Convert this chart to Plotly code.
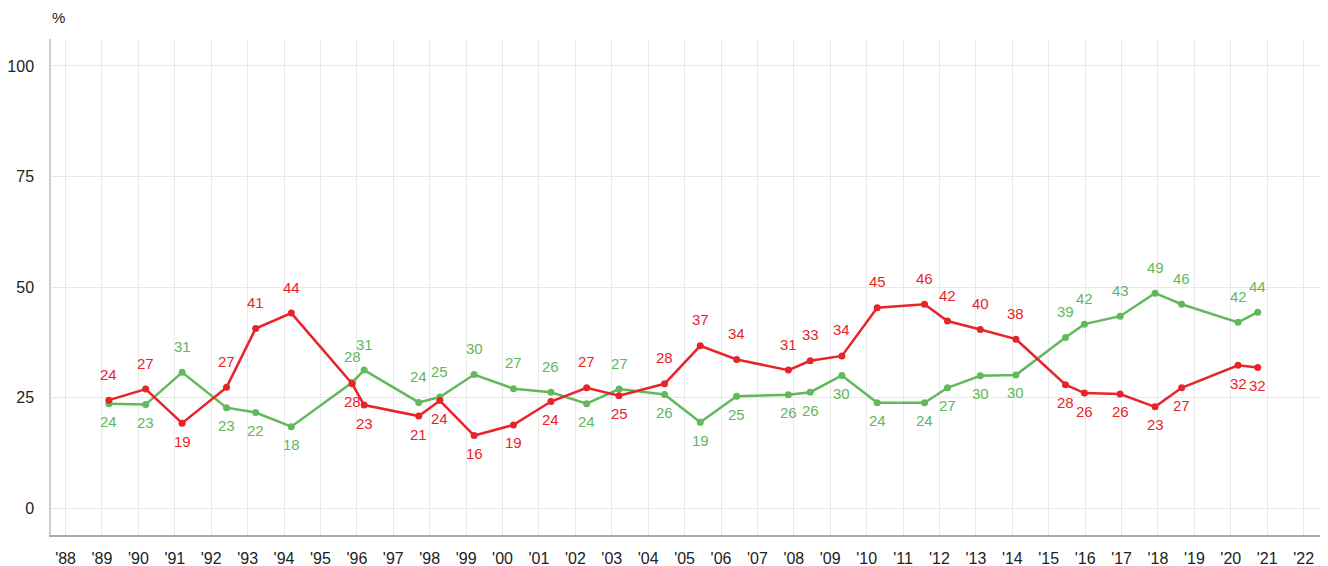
import plotly.graph_objects as go

x_dates = [1989.19, 1990.2, 1991.2, 1992.42, 1993.22, 1994.2, 1995.87, 1996.2, 1997.7, 1998.28,
           1999.22, 2000.3, 2001.33, 2002.31, 2003.2, 2004.45, 2005.43, 2006.43, 2007.85, 2008.45,
           2009.32, 2010.29, 2011.59, 2012.22, 2013.12, 2014.1, 2015.46, 2015.98, 2016.96, 2017.92,
           2018.65, 2020.2, 2020.74]

red_values = [24.4, 26.9, 19.2, 27.3, 40.6, 44.1, 28.1, 23.3, 20.8, 24.3,
              16.4, 18.8, 24.1, 27.2, 25.4, 28.1, 36.7, 33.6, 31.2, 33.3,
              34.4, 45.3, 46.1, 42.3, 40.4, 38.2, 27.9, 26.0, 25.8, 22.9,
              27.2, 32.3, 31.8]

green_values = [23.6, 23.4, 30.7, 22.7, 21.6, 18.4, 28.4, 31.2, 23.9, 25.1,
                30.2, 27.0, 26.2, 23.6, 26.9, 25.7, 19.4, 25.3, 25.6, 26.2,
                30.0, 23.8, 23.8, 27.2, 29.9, 30.1, 38.6, 41.6, 43.4, 48.6,
                46.1, 42.0, 44.3]

tick_years = list(range(1988, 2023))
tick_labels = ["'" + str(y)[2:] for y in tick_years]
y_ticks = [0, 25, 50, 75, 100]

RED = "#e8242b"
GREEN = "#62b85c"
FONT = "Liberation Sans, Arial, sans-serif"

fig = go.Figure()
fig.add_trace(go.Scatter(
    x=x_dates, y=green_values, mode="lines+markers",
    line=dict(color=GREEN, width=2.5), marker=dict(color=GREEN, size=7),
    showlegend=False, hoverinfo="x+y",
))
fig.add_trace(go.Scatter(
    x=x_dates, y=red_values, mode="lines+markers",
    line=dict(color=RED, width=2.5), marker=dict(color=RED, size=7),
    showlegend=False, hoverinfo="x+y",
))

annotations = []
for xd, r, g in zip(x_dates, red_values, green_values):
    red_up = r >= g
    annotations.append(dict(
        x=xd, y=r, xref="x", yref="y", text=f"{r:.0f}", showarrow=False,
        yanchor="middle", yshift=26 if red_up else -18,
        font=dict(size=15, color=RED, family=FONT),
    ))
    annotations.append(dict(
        x=xd, y=g, xref="x", yref="y", text=f"{g:.0f}", showarrow=False,
        yanchor="middle", yshift=-18 if red_up else 26,
        font=dict(size=15, color=GREEN, family=FONT),
    ))

annotations.append(dict(
    text="%", xref="paper", yref="paper", x=0.0, y=1.0, xanchor="center", yanchor="middle",
    xshift=7, yshift=22, showarrow=False, font=dict(size=15, color="#222222", family=FONT),
))

fig.update_layout(
    width=1328, height=566,
    margin=dict(l=43, r=16, t=31, b=39),
    paper_bgcolor="white", plot_bgcolor="white",
    font=dict(family=FONT, color="#222222", size=14),
    xaxis=dict(
        range=[1987.6, 2022.45], tickmode="array", tickvals=tick_years, ticktext=tick_labels,
        showgrid=True, gridcolor="#e8e8e8", gridwidth=1,
        showline=True, linecolor="#aaaaaa", linewidth=1.5,
        zeroline=False, ticks="", ticklabelstandoff=8, automargin=False,
        tickfont=dict(size=16, color="#222222"),
    ),
    yaxis=dict(
        range=[-6.1, 106.1], tickmode="array", tickvals=y_ticks,
        showgrid=True, gridcolor="#e8e8e8", gridwidth=1,
        showline=True, linecolor="#cccccc", linewidth=1.5,
        zeroline=False, ticks="", ticklabelstandoff=12, automargin=False,
        tickfont=dict(size=16, color="#222222"),
    ),
    annotations=annotations,
)

fig.write_html("out.html")
